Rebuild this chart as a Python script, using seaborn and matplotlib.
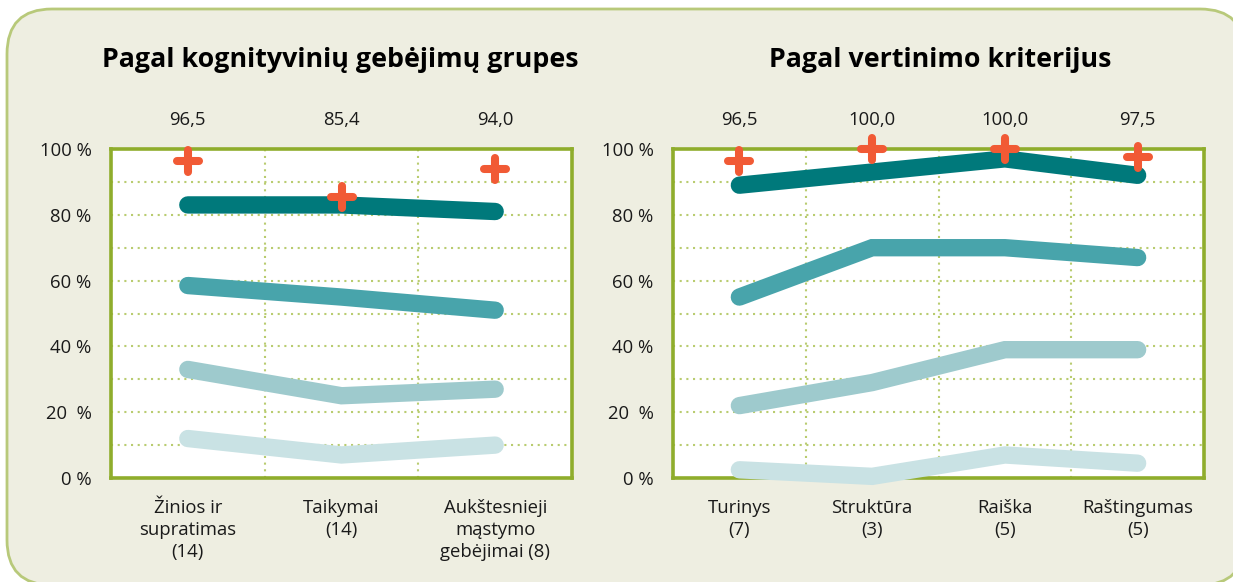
import matplotlib
matplotlib.use("Agg")
import matplotlib.pyplot as plt
import seaborn as sns
import pandas as pd
import numpy as np
from matplotlib.patches import FancyBboxPatch
from matplotlib.ticker import MultipleLocator, FixedLocator

# ---------------- data ----------------
left_title = "Pagal kognityvinių gebėjimų grupes"
left_cats = ["Žinios ir\nsupratimas\n(14)", "Taikymai\n(14)", "Aukštesnieji\nmąstymo\ngebėjimai (8)"]
left_top = [96.5, 85.4, 94.0]
left_s1 = [83, 83, 81]
left_s2 = [58.5, 55, 51]
left_s3 = [33, 25, 27]
left_s4 = [12, 7, 10]

right_title = "Pagal vertinimo kriterijus"
right_cats = ["Turinys\n(7)", "Struktūra\n(3)", "Raiška\n(5)", "Raštingumas\n(5)"]
right_top = [96.5, 100.0, 100.0, 97.5]
right_s1 = [89, 93, 97, 92]
right_s2 = [55, 70, 70, 67]
right_s3 = [22, 29, 39, 39]
right_s4 = [2.5, 0.5, 7, 4.5]

y_ticks = [0, 20, 40, 60, 80, 100]
y_tick_labels = ["0 %", "20  %", "40 %", "60 %", "80 %", "100 %"]
series_names = ["s1", "s2", "s3", "s4"]

# ---------------- style ----------------
sns.set_style("white")
plt.rcParams["font.family"] = ["Open Sans", "DejaVu Sans"]
series_colors = ["#00797b", "#48a4ab", "#9ecacd", "#c9e2e4"]
plus_color = "#f15a35"
bg_color = "#eeeee1"
spine_color = "#8fad2c"
grid_color = "#b9cc70"
text_color = "#1a1a1a"
label_size = 13.3

fig = plt.figure(figsize=(12.33, 5.82), dpi=100)
fig.patch.set_facecolor("white")

# rounded background panel
bg = FancyBboxPatch((0.07, -0.03), 12.38, 5.76,
                    boxstyle="round,pad=0,rounding_size=0.45",
                    transform=fig.dpi_scale_trans, facecolor=bg_color,
                    edgecolor="#b8c97a", linewidth=2.0, zorder=-10)
fig.patches.append(bg)

ax_l = fig.add_axes([111 / 1233, 1 - 478 / 582, (572 - 111) / 1233, (478 - 149) / 582])
ax_r = fig.add_axes([673 / 1233, 1 - 478 / 582, (1204 - 673) / 1233, (478 - 149) / 582])


def draw(ax, cats, series, top, title, title_x):
    n = len(cats)
    df = pd.DataFrame({
        "cat": [c for _ in series for c in cats],
        "val": [v for s in series for v in s],
        "series": [name for name, s in zip(series_names, series) for _ in s],
    })
    sns.lineplot(data=df, x="cat", y="val", hue="series", hue_order=series_names,
                 palette=series_colors, estimator=None, sort=False, legend=False,
                 linewidth=12.5, ax=ax, solid_capstyle="round",
                 solid_joinstyle="miter", clip_on=False, zorder=3)
    sns.scatterplot(x=cats, y=top, marker="+", s=270, linewidth=5.8,
                    color=plus_color, ax=ax, clip_on=False, zorder=6)
    ax.collections[-1].set_capstyle("round")
    ax.collections[-1].set_edgecolor(plus_color)

    ax.set_xlim(-0.5, n - 0.5)
    ax.set_ylim(0, 100)
    ax.set_facecolor("white")
    ax.set_xlabel("")
    ax.set_ylabel("")
    ax.set_xticks(range(n), cats)
    ax.set_yticks(y_ticks, y_tick_labels)
    ax.xaxis.set_minor_locator(FixedLocator(np.arange(-0.5, n, 1.0)))
    ax.yaxis.set_minor_locator(MultipleLocator(10))

    ax.yaxis.grid(True, which="both", linestyle=(0, (1, 2.2)), color=grid_color, linewidth=1.5, zorder=0)
    ax.xaxis.grid(True, which="minor", linestyle=(0, (1, 2.2)), color=grid_color, linewidth=1.5, zorder=0)
    ax.xaxis.grid(False, which="major")
    ax.set_axisbelow(True)

    for sp in ax.spines.values():
        sp.set_color(spine_color)
        sp.set_linewidth(2.6)
        sp.set_visible(True)

    ax.tick_params(axis="x", which="major", length=0, pad=15, labelsize=label_size, labelcolor=text_color)
    ax.tick_params(axis="x", which="minor", length=7, width=2.6, color=spine_color, direction="out")
    ax.tick_params(axis="y", which="major", length=7, width=2.6, color=spine_color, direction="out",
                   pad=7, labelsize=label_size, labelcolor=text_color)
    ax.tick_params(axis="y", which="minor", length=0)
    for lbl in ax.get_xticklabels():
        lbl.set_linespacing(1.3)
        lbl.set_verticalalignment("top")

    for i, v in enumerate(top):
        ax.text(i, 1.088, f"{v:.1f}".replace(".", ","), transform=ax.get_xaxis_transform(),
                ha="center", va="center", fontsize=label_size, color=text_color)

    fig.text(title_x, 1 - 60 / 582, title, ha="center", va="center",
             fontsize=19.3, fontweight="bold", color="black")


draw(ax_l, left_cats, [left_s1, left_s2, left_s3, left_s4], left_top, left_title, 340 / 1233)
draw(ax_r, right_cats, [right_s1, right_s2, right_s3, right_s4], right_top, right_title, 940 / 1233)

fig.savefig("out.png", dpi=100, facecolor=fig.get_facecolor())
